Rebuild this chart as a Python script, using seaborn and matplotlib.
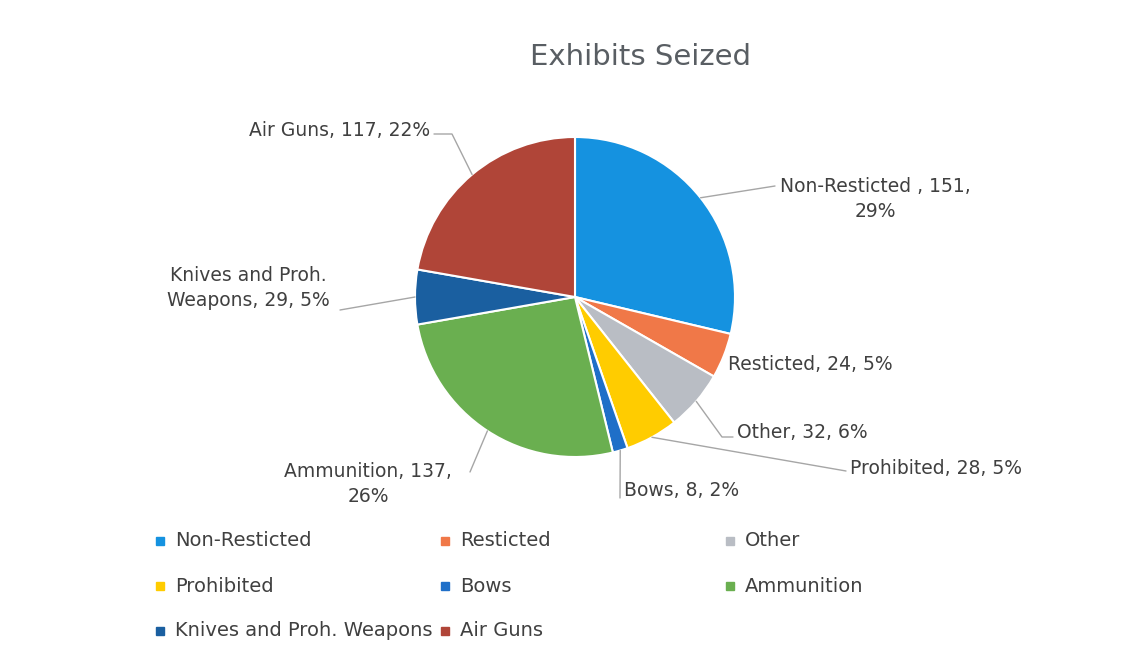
import numpy as np
import pandas as pd
import seaborn as sns
import matplotlib.pyplot as plt

sns.set_style('white')
plt.rcParams['font.family'] = ['DejaVu Sans']

# data
categories = ['Non-Resticted', 'Resticted', 'Other', 'Prohibited', 'Bows',
              'Ammunition', 'Knives and Proh. Weapons', 'Air Guns']
counts = [151, 24, 32, 28, 8, 137, 29, 117]
pct_labels = ['29%', '5%', '6%', '5%', '2%', '26%', '5%', '22%']
slice_labels = ['Non-Resticted , 151,\n29%', 'Resticted, 24, 5%', 'Other, 32, 6%',
                'Prohibited, 28, 5%', 'Bows, 8, 2%', 'Ammunition, 137,\n26%',
                'Knives and Proh.\nWeapons, 29, 5%', 'Air Guns, 117, 22%']
colors = ['#1592E0', '#F07848', '#B9BDC4', '#FFCC00', '#1F6FC8',
          '#6AAF50', '#1A5FA0', '#B04538']

df = pd.DataFrame({'category': categories, 'count': counts, 'color': colors})

W, H = 1132, 657
fig = plt.figure(figsize=(W / 100, H / 100), dpi=100)
ax = fig.add_axes([0, 0, 1, 1])

cx, cy, r = 575, H - 297, 160
wedges, _ = ax.pie(df['count'], colors=df['color'], startangle=90, counterclock=False,
                   center=(cx, cy), radius=r, frame=True,
                   wedgeprops=dict(edgecolor='white', linewidth=1.5))
ax.set_xlim(0, W)
ax.set_ylim(0, H)
ax.axis('off')

txt_col = '#404040'
line_col = '#A6A6A6'
fs = 13.5

# label placement (pixel coords from top-left): text pos, alignment, leader bends
layout = [
    ((875, 199), 'center', [(775, 186)]),
    ((728, 364), 'left', None),
    ((737, 432), 'left', [(722, 437), (733, 437)]),
    ((850, 469), 'left', [(846, 471)]),
    ((624, 491), 'left', [(620, 498)]),
    ((368, 484), 'center', [(470, 472)]),
    ((248, 288), 'center', [(340, 310)]),
    ((430, 130), 'right', [(452, 134), (434, 134)]),
]

for w, lab, (pos, ha, bends) in zip(wedges, slice_labels, layout):
    mid = np.deg2rad((w.theta1 + w.theta2) / 2)
    sx, sy = cx + r * np.cos(mid), cy + r * np.sin(mid)
    if bends:
        xs = [sx] + [b[0] for b in bends]
        ys = [sy] + [H - b[1] for b in bends]
        ax.plot(xs, ys, color=line_col, lw=1)
    ax.text(pos[0], H - pos[1], lab, ha=ha, va='center', fontsize=fs,
            color=txt_col, linespacing=1.45)

ax.text(641, H - 57, 'Exhibits Seized', ha='center', va='center',
        fontsize=21, color='#595e63')

# legend, three per row
leg_x = [160, 445, 730]
leg_y = [541, 586, 631]
for i, (cat, col) in enumerate(zip(categories, colors)):
    lx, ly = leg_x[i % 3], H - leg_y[i // 3]
    ax.plot(lx, ly, marker='s', markersize=6, color=col, linestyle='none')
    ax.text(lx + 15, ly, cat, ha='left', va='center', fontsize=14, color=txt_col)

fig.savefig('out.png', dpi=100, facecolor='white')
